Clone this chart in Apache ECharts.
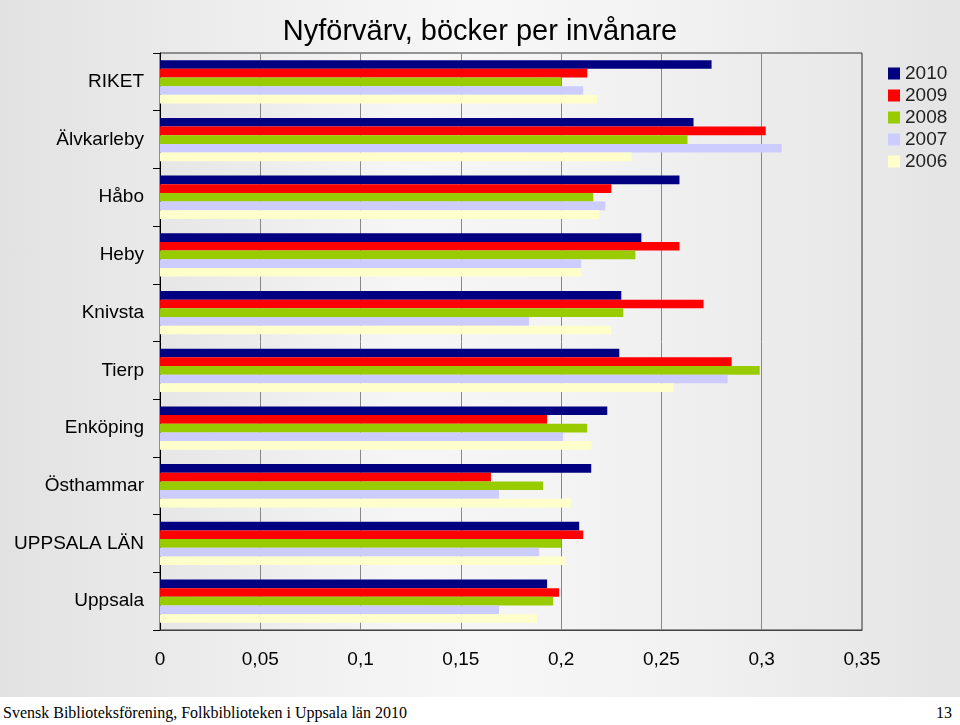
<!DOCTYPE html>
<html>
<head>
<meta charset="utf-8">
<title>Nyförvärv, böcker per invånare</title>
<style>
    html, body { margin: 0; padding: 0; }
    body { width: 960px; height: 725px; overflow: hidden; background: #fff; }
    #main {
        width: 960px; height: 697px;
        background: linear-gradient(to right, #e2e2e2 0%, #f2f2f2 35%, #f7f7f7 50%, #f2f2f2 70%, #e4e4e4 100%);
    }
    #foot {
        position: relative; height: 28px; background: #fff;
        font-family: "Liberation Serif", "DejaVu Serif", serif; font-size: 16px; color: #000;
    }
    #foot .l { position: absolute; left: 3px; top: 7px; }
    #foot .r { position: absolute; right: 8px; top: 7px; }
</style>
</head>
<body>
<div id="main"></div>
<div id="foot"><span class="l">Svensk Biblioteksförening, Folkbiblioteken i Uppsala län 2010</span><span class="r">13</span></div>
<script src="https://cdn.jsdelivr.net/npm/echarts@6/dist/echarts.min.js"></script>
<script type="text/javascript">

    const KOMMUNER = ['RIKET', 'Älvkarleby', 'Håbo', 'Heby', 'Knivsta', 'Tierp', 'Enköping', 'Östhammar', 'UPPSALA LÄN', 'Uppsala'];
    const YEARS = ['2010', '2009', '2008', '2007', '2006'];
    const COLORS = ['#000080', '#ff0000', '#99cc00', '#ccccff', '#ffffcc'];

    // böcker per invånare, samma ordning som KOMMUNER
    const V2010 = [0.275, 0.266, 0.259, 0.240, 0.230, 0.229, 0.223, 0.215, 0.209, 0.193];
    const V2009 = [0.213, 0.302, 0.225, 0.259, 0.271, 0.285, 0.193, 0.165, 0.211, 0.199];
    const V2008 = [0.200, 0.263, 0.216, 0.237, 0.231, 0.299, 0.213, 0.191, 0.200, 0.196];
    const V2007 = [0.211, 0.310, 0.222, 0.210, 0.184, 0.283, 0.201, 0.169, 0.189, 0.169];
    const V2006 = [0.218, 0.235, 0.219, 0.210, 0.225, 0.256, 0.215, 0.205, 0.202, 0.188];

    const VALUES = [V2010, V2009, V2008, V2007, V2006];

    let myChart = echarts.init(document.getElementById('main'));

    let series = [];
    for (let i = 0; i < YEARS.length; i++) {
        series.push({
            name: YEARS[i],
            type: 'bar',
            data: VALUES[i],
            itemStyle: { color: COLORS[i] },
            barGap: '0%',
            barCategoryGap: '25%',
        });
    }

    const option = {
        animation: false,
        textStyle: { fontFamily: '"Liberation Sans", Arial, sans-serif' },
        title: {
            text: 'Nyförvärv, böcker per invånare',
            left: 'center',
            top: 12,
            textStyle: { fontSize: 29, fontWeight: 'normal', color: '#000' }
        },
        legend: {
            orient: 'vertical',
            left: 883,
            top: 59,
            itemWidth: 12,
            itemHeight: 12,
            itemGap: 3,
            icon: 'rect',
            data: YEARS,
            textStyle: { fontSize: 19, color: '#222' }
        },
        grid: {
            left: 160,
            top: 53,
            width: 702,
            height: 577,
            show: true,
            borderColor: '#333',
            borderWidth: 1,
            backgroundColor: {
                type: 'linear', x: 0, y: 0, x2: 1, y2: 0,
                colorStops: [
                    { offset: 0, color: '#e6e6e6' },
                    { offset: 0.35, color: '#f6f6f6' },
                    { offset: 0.6, color: '#f3f3f3' },
                    { offset: 1, color: '#e8e8e8' }
                ]
            }
        },
        xAxis: {
            type: 'value',
            min: 0,
            max: 0.35,
            interval: 0.05,
            axisLine: { show: true, lineStyle: { color: '#444' } },
            axisTick: { show: false },
            splitLine: { show: true, lineStyle: { color: '#888', width: 1 } },
            axisLabel: {
                fontSize: 19,
                color: '#000',
                margin: 20,
                formatter: function (v) {
                    return String(Math.round(v * 100) / 100).replace('.', ',');
                }
            }
        },
        yAxis: {
            type: 'category',
            inverse: true,
            data: KOMMUNER,
            axisLine: { show: true, lineStyle: { color: '#000' } },
            axisTick: { show: true, length: 7, lineStyle: { color: '#000' } },
            axisLabel: { fontSize: 19, color: '#000', margin: 16, padding: [3, 0, 0, 0] }
        },
        series: series
    };

    myChart.setOption(option);

</script>
</body>
</html>
